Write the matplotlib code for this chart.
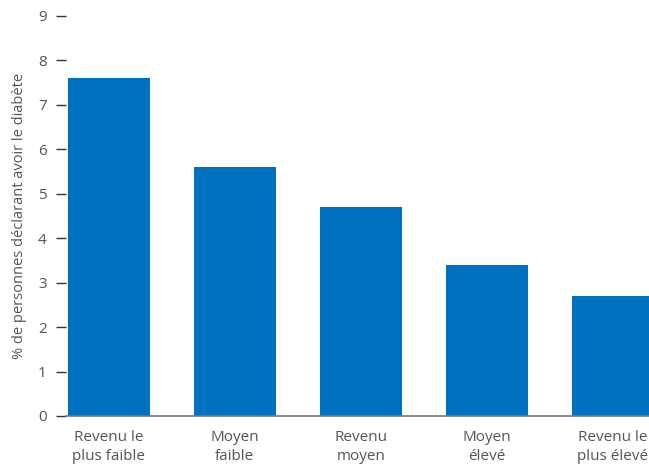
import matplotlib.pyplot as plt
import numpy as np

categories = ['Revenu le\nplus faible', 'Moyen\nfaible', 'Revenu\nmoyen', 'Moyen\nélevé', 'Revenu le\nplus élevé']
values = [7.6, 5.6, 4.7, 3.4, 2.7]
yticks = list(range(0, 10))

plt.rcParams['font.family'] = ['Open Sans', 'DejaVu Sans']
text_color = '#555555'

fig = plt.figure(figsize=(6.49, 4.66), dpi=100)
ax = fig.add_axes([0.1017, 0.1073, 0.8983, 0.8584])

x = np.arange(len(categories))
ax.bar(x, values, width=0.65, color='#0070C0', zorder=2)

ax.set_xlim(-0.34, 4.286)
ax.set_ylim(0, 9)
ax.set_yticks(yticks)
ax.set_xticks(x)
ax.set_xticklabels(categories, fontsize=11, color=text_color, linespacing=1.4)
ax.tick_params(axis='y', length=7, width=1, color='#333333', labelsize=11,
               labelcolor=text_color, pad=7)
ax.tick_params(axis='x', length=0, pad=10)

for s in ['top', 'right', 'left']:
    ax.spines[s].set_visible(False)
ax.spines['bottom'].set_color('#777777')
ax.spines['bottom'].set_linewidth(1.2)
ax.spines['bottom'].set_zorder(3)

ax.set_ylabel('% de personnes déclarant avoir le diabète', fontsize=10.5, color=text_color, labelpad=8)

fig.savefig('out.png', dpi=100)
